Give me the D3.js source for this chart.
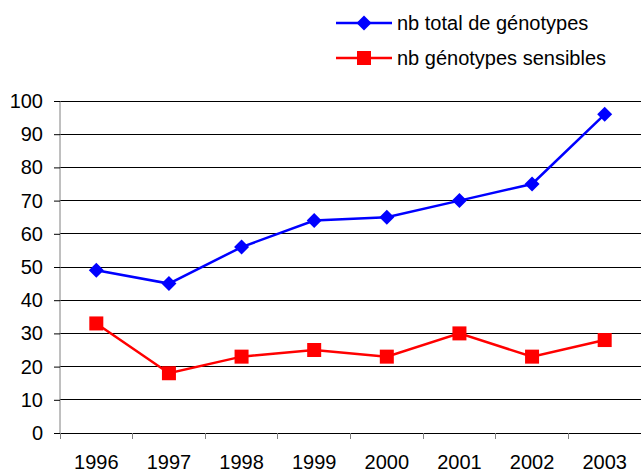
<!DOCTYPE html>
<html>
<head>
<meta charset="utf-8">
<script src="https://cdn.jsdelivr.net/npm/d3@7"></script>
<style>
  body { margin: 0; background: #fff; overflow: hidden; }
  svg { display: block; font-family: "Liberation Sans", Arial, sans-serif; }
</style>
</head>
<body>
<svg></svg>
<script>
// Données
const years = ["1996", "1997", "1998", "1999", "2000", "2001", "2002", "2003"];
const totalGenotypes = [49, 45, 56, 64, 65, 70, 75, 96];
const sensibleGenotypes = [33, 18, 23, 25, 23, 30, 23, 28];
const yTicks = [0, 10, 20, 30, 40, 50, 60, 70, 80, 90, 100];
const seriesNames = ["nb total de génotypes", "nb génotypes sensibles"];
const seriesColors = ["#0000ff", "#ff0000"];

const width = 641, height = 471;
const margin = { top: 101, right: 0, bottom: 38, left: 60 };
const innerWidth = width - margin.left - margin.right;
const innerHeight = height - margin.top - margin.bottom;
const fontSize = 20;

const svg = d3.select("svg").attr("width", width).attr("height", height);
const g = svg.append("g").attr("transform", `translate(${margin.left},${margin.top})`);

const x = d3.scaleBand().domain(years).range([0, innerWidth]);
const y = d3.scaleLinear().domain([0, 100]).range([innerHeight, 0]);

// Lignes de grille
g.append("g")
  .selectAll("line")
  .data(yTicks)
  .enter().append("line")
  .attr("x1", 0).attr("x2", innerWidth)
  .attr("y1", d => y(d)).attr("y2", d => y(d))
  .attr("stroke", "#000").attr("stroke-width", 1)
  .attr("shape-rendering", "crispEdges");

// Axe y
const yAxis = g.append("g")
  .call(d3.axisLeft(y).tickValues(yTicks).tickSize(6).tickPadding(11));
yAxis.select(".domain").attr("stroke", "#808080").attr("d", `M0,0V${innerHeight}`);
yAxis.selectAll(".tick line").attr("stroke", "#000");
yAxis.selectAll("text").attr("font-size", fontSize).attr("fill", "#000")
  .attr("font-family", "Liberation Sans, Arial, sans-serif");

// Axe x
const xAxis = g.append("g")
  .attr("transform", `translate(0,${innerHeight})`)
  .call(d3.axisBottom(x).tickSize(0).tickPadding(0));
xAxis.select(".domain").attr("stroke", "#000");
xAxis.selectAll("text").attr("font-size", fontSize).attr("fill", "#000")
  .attr("font-family", "Liberation Sans, Arial, sans-serif")
  .attr("dy", null).attr("y", 36);
// graduations entre les catégories
g.append("g")
  .selectAll("line")
  .data(years.concat(["end"]))
  .enter().append("line")
  .attr("x1", (d, i) => i * x.step()).attr("x2", (d, i) => i * x.step())
  .attr("y1", innerHeight).attr("y2", innerHeight + 6)
  .attr("stroke", "#808080")
  .attr("shape-rendering", "crispEdges");

const cx = d => x(d) + x.bandwidth() / 2;
const line = d3.line().x(d => cx(d.year)).y(d => y(d.value));

function series(values) {
  return years.map((yr, i) => ({ year: yr, value: values[i] }));
}

// Série bleue
const totalData = series(totalGenotypes);
g.append("path").datum(totalData)
  .attr("fill", "none").attr("stroke", seriesColors[0]).attr("stroke-width", 2.5)
  .attr("d", line);
g.selectAll(".diamond").data(totalData).enter().append("path")
  .attr("class", "diamond")
  .attr("transform", d => `translate(${cx(d.year)},${y(d.value)})`)
  .attr("d", "M0,-7.5L7.5,0L0,7.5L-7.5,0Z")
  .attr("fill", seriesColors[0]);

// Série rouge
const sensData = series(sensibleGenotypes);
g.append("path").datum(sensData)
  .attr("fill", "none").attr("stroke", seriesColors[1]).attr("stroke-width", 2.5)
  .attr("d", line);
g.selectAll(".square").data(sensData).enter().append("rect")
  .attr("class", "square")
  .attr("x", d => cx(d.year) - 7).attr("y", d => y(d.value) - 7)
  .attr("width", 14).attr("height", 14)
  .attr("fill", seriesColors[1]);

// Légende
const legend = svg.append("g");
const legendY = [23, 58];
seriesNames.forEach((name, i) => {
  const row = legend.append("g").attr("transform", `translate(336,${legendY[i]})`);
  row.append("line").attr("x1", 0).attr("x2", 56).attr("y1", 0).attr("y2", 0)
    .attr("stroke", seriesColors[i]).attr("stroke-width", 2.5);
  if (i === 0) {
    row.append("path").attr("d", "M28,-7.5L35.5,0L28,7.5L20.5,0Z").attr("fill", seriesColors[i]);
  } else {
    row.append("rect").attr("x", 21).attr("y", -7).attr("width", 14).attr("height", 14)
      .attr("fill", seriesColors[i]);
  }
  row.append("text").attr("x", 61).attr("y", 0).attr("dy", "0.35em")
    .attr("font-size", fontSize).attr("fill", "#000").text(name);
});
</script>
</body>
</html>
